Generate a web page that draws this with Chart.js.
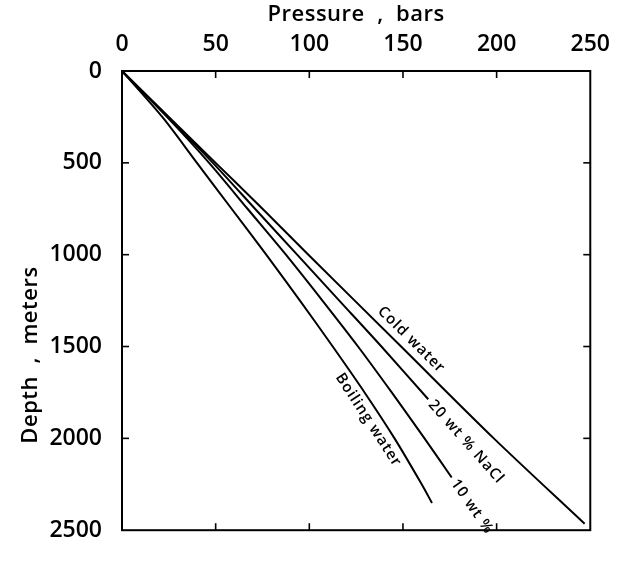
<!DOCTYPE html>
<html>
<head>
<meta charset="utf-8">
<script src="https://cdn.jsdelivr.net/npm/chart.js@4"></script>
<style>
  body { margin: 0; background: #fff; }
  canvas { display: block; }
</style>
</head>
<body>
<canvas id="chart" width="623" height="564"></canvas>
<script>
// Depth (m) vs pressure (bars)
const seriesNames = ['Cold water', '20 wt % NaCl', '10 wt %', 'Boiling water'];

const coldDepth = [0, 250, 500, 750, 1000, 1500, 2000, 2465];
const coldPressure = [0, 25, 50, 75, 99.5, 149, 198.5, 247];

const nacl20Depth = [0, 250, 500, 750, 1000, 1250, 1500, 1787];
const nacl20Pressure = [0, 24.5, 48.5, 71, 93.5, 116, 138.5, 163.5];

const nacl10Depth = [0, 250, 500, 750, 1000, 1250, 1500, 1750, 2000, 2213];
const nacl10Pressure = [0, 24, 46.5, 67, 87.5, 107, 126, 144, 161.5, 176];

const boilDepth = [0, 250, 500, 750, 1000, 1250, 1500, 1750, 2000, 2250, 2352];
const boilPressure = [0, 21.5, 40, 58.5, 77, 95, 112.5, 129.5, 145.5, 160, 165.5];

const pressureTicks = [0, 50, 100, 150, 200, 250];
const depthTicks = [0, 500, 1000, 1500, 2000, 2500];

const toPoints = (p, d) => p.map((v, i) => ({ x: v, y: d[i] }));

const FONT = '"Open Sans", "DejaVu Sans", sans-serif';

// labels drawn along the curves
const curveLabels = [
  { ds: 0, depth: 1510, offset: 12, mode: 'along' },
  { ds: 1, mode: 'end', gap: 4 },
  { ds: 2, mode: 'end', gap: 4 },
  { ds: 3, depth: 1865, offset: -12, mode: 'along' }
];

const overlay = {
  id: 'overlay',
  afterDatasetsDraw(chart) {
    const { ctx, chartArea: a, scales: { x, y } } = chart;
    ctx.save();
    ctx.strokeStyle = '#000';
    ctx.lineWidth = 2;
    ctx.strokeRect(a.left, a.top, a.right - a.left, a.bottom - a.top);

    // inward ticks on all four sides
    ctx.lineWidth = 1.6;
    const seg = (x1, y1, x2, y2) => { ctx.beginPath(); ctx.moveTo(x1, y1); ctx.lineTo(x2, y2); ctx.stroke(); };
    pressureTicks.slice(1, -1).forEach(v => {
      const px = x.getPixelForValue(v);
      seg(px, a.top, px, a.top + 7);
      seg(px, a.bottom, px, a.bottom - 7);
    });
    depthTicks.slice(1, -1).forEach(v => {
      const py = y.getPixelForValue(v);
      seg(a.left, py, a.left + 7, py);
      seg(a.right, py, a.right - 7, py);
    });

    // axis titles
    ctx.fillStyle = '#000';
    ctx.font = '600 22px ' + FONT;
    ctx.letterSpacing = '0.5px';
    ctx.textAlign = 'center';
    ctx.textBaseline = 'middle';
    ctx.fillText('Pressure  ,  bars', (a.left + a.right) / 2, 15);
    ctx.save();
    ctx.translate(31, 355);
    ctx.rotate(-Math.PI / 2);
    ctx.fillText('Depth  ,  meters', 0, 0);
    ctx.restore();

    // curve labels
    ctx.font = '600 15px ' + FONT;
    ctx.letterSpacing = '1px';
    curveLabels.forEach(l => {
      const pts = chart.data.datasets[l.ds].data.map(p => ({ x: x.getPixelForValue(p.x), y: y.getPixelForValue(p.y) }));
      let p0, p1, px, py;
      if (l.mode === 'end') {
        p0 = pts[pts.length - 2]; p1 = pts[pts.length - 1];
        const ang = Math.atan2(p1.y - p0.y, p1.x - p0.x);
        px = p1.x + Math.cos(ang) * l.gap; py = p1.y + Math.sin(ang) * l.gap;
        ctx.save();
        ctx.translate(px, py); ctx.rotate(ang);
        ctx.textAlign = 'left';
        ctx.fillText(seriesNames[l.ds], 0, 0);
        ctx.restore();
      } else {
        const target = y.getPixelForValue(l.depth);
        let i = 1;
        while (i < pts.length - 1 && pts[i].y < target) i++;
        p0 = pts[i - 1]; p1 = pts[i];
        const t = (target - p0.y) / (p1.y - p0.y);
        px = p0.x + (p1.x - p0.x) * t; py = target;
        const ang = Math.atan2(p1.y - p0.y, p1.x - p0.x);
        px += Math.sin(ang) * l.offset; py -= Math.cos(ang) * l.offset;
        ctx.save();
        ctx.translate(px, py); ctx.rotate(ang);
        ctx.textAlign = 'center';
        ctx.fillText(seriesNames[l.ds], 0, 0);
        ctx.restore();
      }
    });
    ctx.restore();
  }
};

const lineStyle = { borderColor: '#000', borderWidth: 2, pointRadius: 0, showLine: true, fill: false, tension: 0.3 };
const tickFont = { family: FONT, size: 23, weight: '600' };

new Chart(document.getElementById('chart'), {
  type: 'scatter',
  data: {
    datasets: [
      { label: seriesNames[0], data: toPoints(coldPressure, coldDepth), ...lineStyle },
      { label: seriesNames[1], data: toPoints(nacl20Pressure, nacl20Depth), ...lineStyle },
      { label: seriesNames[2], data: toPoints(nacl10Pressure, nacl10Depth), ...lineStyle },
      { label: seriesNames[3], data: toPoints(boilPressure, boilDepth), ...lineStyle }
    ]
  },
  options: {
    responsive: false,
    animation: false,
    layout: { padding: { top: 0, left: 0, right: 20, bottom: 14 } },
    scales: {
      x: {
        type: 'linear',
        position: 'top',
        min: 0,
        max: 250,
        afterBuildTicks: s => { s.ticks = pressureTicks.map(v => ({ value: v })); },
        afterFit: s => { s.height = 71; },
        grid: { display: false, drawTicks: false },
        border: { display: false },
        ticks: { color: '#000', padding: 13, font: tickFont, callback: v => String(v) }
      },
      y: {
        type: 'linear',
        reverse: true,
        min: 0,
        max: 2500,
        afterBuildTicks: s => { s.ticks = depthTicks.map(v => ({ value: v })); },
        afterFit: s => { s.width = 122; },
        grid: { display: false, drawTicks: false },
        border: { display: false },
        ticks: { color: '#000', padding: 20, font: tickFont, callback: v => String(v) }
      }
    },
    plugins: {
      legend: { display: false },
      tooltip: { enabled: false }
    }
  },
  plugins: [overlay]
});
</script>
</body>
</html>
